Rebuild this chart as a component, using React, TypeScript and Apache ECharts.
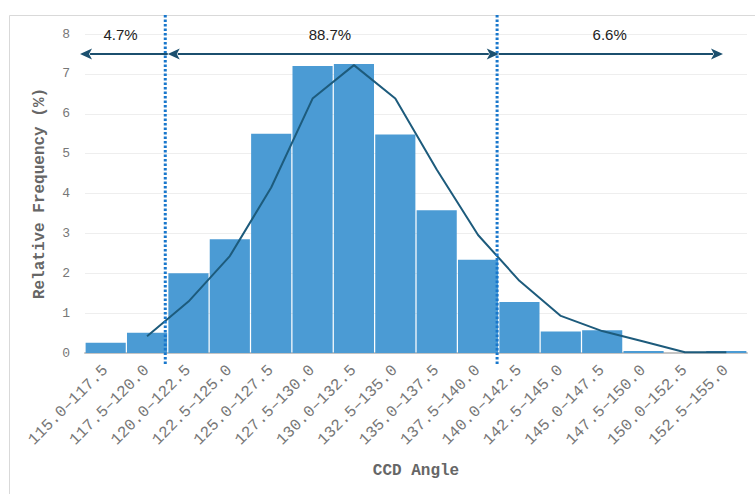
import React, { useEffect, useRef } from "react";
import * as echarts from "echarts";

const categories = [
  "115.0–117.5", "117.5–120.0", "120.0–122.5", "122.5–125.0",
  "125.0–127.5", "127.5–130.0", "130.0–132.5", "132.5–135.0",
  "135.0–137.5", "137.5–140.0", "140.0–142.5", "142.5–145.0",
  "145.0–147.5", "147.5–150.0", "150.0–152.5", "152.5–155.0",
];
const barValues = [0.26, 0.51, 2.0, 2.85, 5.5, 7.2, 7.25, 5.48, 3.58, 2.34, 1.28, 0.54, 0.57, 0.05, 0, 0.05];
const curveValues: (number | string)[] = ["-", 0.42, 1.29, 2.43, 4.15, 6.38, 7.22, 6.38, 4.6, 2.96, 1.81, 0.93, 0.55, 0.29, 0.02, 0.02];
const yTicks = { min: 0, max: 8, interval: 1 };
const angleRange = { min: 115, max: 155 };
const dividers = [119.85, 139.9];
// [from, to, y, headAtStart, headAtEnd]
const arrows = [
  [120, 114.7, 7.5, 0, 1],
  [120, 140, 7.5, 1, 1],
  [140, 153.55, 7.5, 0, 1],
];
const shareLabels = [
  { x: 117.15, y: 8, text: "4.7%" },
  { x: 129.8, y: 8, text: "88.7%" },
  { x: 146.7, y: 8, text: "6.6%" },
];

const MONO = "'Liberation Mono', 'DejaVu Sans Mono', monospace";

export default function App() {
  const ref = useRef<HTMLDivElement>(null);
  useEffect(() => {
    if (!ref.current) return;
    const chart = echarts.init(ref.current, undefined, { renderer: "svg" });
    const arrowColor = "#1b4f6e";
    chart.setOption({
      animation: false,
      backgroundColor: "#fff",
      graphic: [
        {
          type: "rect",
          x: 9.5,
          y: 15.5,
          shape: { width: 800, height: 600 },
          style: { fill: "none", stroke: "#d9d9d9", lineWidth: 1 },
          z: -1,
        },
      ],
      grid: { left: 85, right: 8, top: 34, bottom: 141 },
      xAxis: [
        {
          type: "category",
          data: categories,
          boundaryGap: true,
          axisLine: { lineStyle: { color: "#c4c4c4", width: 2 } },
          axisTick: { show: false },
          axisLabel: {
            interval: 0,
            rotate: 45,
            margin: 15,
            color: "#777",
            fontFamily: MONO,
            fontSize: 16,
          },
          name: "CCD Angle",
          nameLocation: "middle",
          nameGap: 110,
          nameTextStyle: { color: "#666", fontFamily: MONO, fontSize: 16, fontWeight: "bold" },
        },
        {
          type: "value",
          min: angleRange.min,
          max: angleRange.max,
          show: false,
        },
      ],
      yAxis: {
        type: "value",
        min: yTicks.min,
        max: yTicks.max,
        interval: yTicks.interval,
        axisLine: { show: false },
        axisTick: { show: false },
        splitLine: { lineStyle: { color: "#eeeeee" } },
        axisLabel: { color: "#777", fontFamily: MONO, fontSize: 13, margin: 15 },
        name: "Relative Frequency (%)",
        nameLocation: "middle",
        nameRotate: 90,
        nameGap: 37,
        nameTextStyle: { color: "#666", fontFamily: MONO, fontSize: 16, fontWeight: "bold" },
      },
      series: [
        {
          type: "bar",
          data: barValues,
          barCategoryGap: "3%",
          itemStyle: { color: "#4b9bd4" },
          z: 2,
        },
        {
          type: "line",
          data: curveValues,
          symbol: "none",
          lineStyle: { color: "#1d5b7c", width: 2 },
          z: 3,
        },
        {
          type: "custom",
          xAxisIndex: 1,
          yAxisIndex: 0,
          data: dividers.map((d) => [d, 0]),
          z: 4,
          renderItem: (params: any, api: any) => {
            const x = api.coord([api.value(0), 0])[0];
            const cs = params.coordSys;
            return {
              type: "line",
              shape: { x1: x, y1: cs.y - 19, x2: x, y2: cs.y + cs.height + 12 },
              style: { stroke: "#1877cc", lineWidth: 3, lineDash: [2.5, 2] },
            };
          },
        },
        {
          type: "custom",
          xAxisIndex: 1,
          yAxisIndex: 0,
          data: arrows,
          z: 5,
          renderItem: (params: any, api: any) => {
            const p1 = api.coord([api.value(0), api.value(2)]);
            const p2 = api.coord([api.value(1), api.value(2)]);
            const hs = api.value(3);
            const he = api.value(4);
            const dir = p2[0] > p1[0] ? 1 : -1;
            const L = 12;
            const W = 5.5;
            const children: any[] = [];
            const x1 = hs ? p1[0] + dir * (L - 2) : p1[0];
            const x2 = he ? p2[0] - dir * (L - 2) : p2[0];
            children.push({
              type: "line",
              shape: { x1, y1: p1[1], x2, y2: p2[1] },
              style: { stroke: arrowColor, lineWidth: 2 },
            });
            if (hs) {
              children.push({
                type: "polygon",
                shape: {
                  points: [
                    [p1[0], p1[1]],
                    [p1[0] + dir * L, p1[1] - W],
                    [p1[0] + dir * (L - 3), p1[1]],
                    [p1[0] + dir * L, p1[1] + W],
                  ],
                },
                style: { fill: arrowColor },
              });
            }
            if (he) {
              children.push({
                type: "polygon",
                shape: {
                  points: [
                    [p2[0], p2[1]],
                    [p2[0] - dir * L, p2[1] - W],
                    [p2[0] - dir * (L - 3), p2[1]],
                    [p2[0] - dir * L, p2[1] + W],
                  ],
                },
                style: { fill: arrowColor },
              });
            }
            return { type: "group", children };
          },
        },
        {
          type: "custom",
          xAxisIndex: 1,
          yAxisIndex: 0,
          data: shareLabels.map((l) => [l.x, l.y, l.text]),
          z: 6,
          renderItem: (params: any, api: any) => {
            const p = api.coord([api.value(0), api.value(1)]);
            return {
              type: "text",
              x: p[0],
              y: p[1],
              style: {
                text: shareLabels[params.dataIndex].text,
                fill: "#222",
                fontFamily: "'Liberation Sans', Arial, sans-serif",
                fontSize: 15,
                align: "center",
                verticalAlign: "middle",
                textAlign: "center",
                textVerticalAlign: "middle",
              },
            };
          },
        },
      ],
    });
    return () => chart.dispose();
  }, []);
  return (
    <div
      ref={ref}
      style={{ position: "absolute", left: 0, top: 0, width: 755, height: 494 }}
    />
  );
}
